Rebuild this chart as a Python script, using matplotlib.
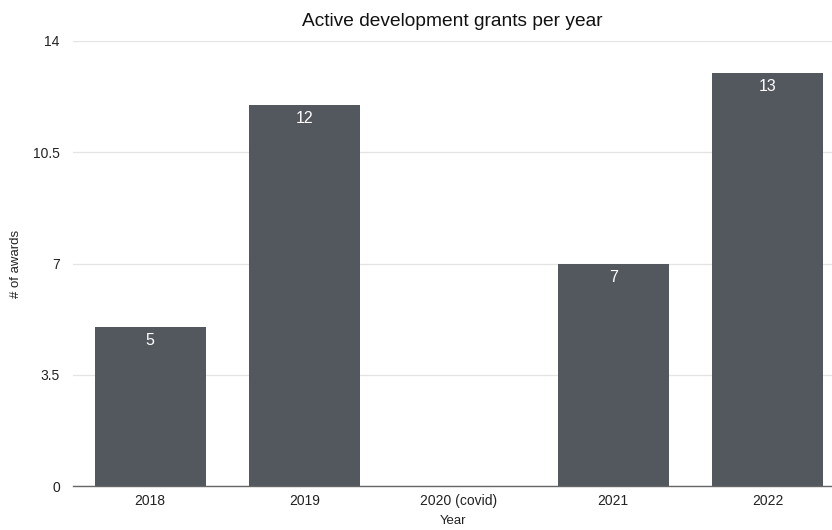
import matplotlib
matplotlib.use("Agg")
import matplotlib.pyplot as plt

categories = ["2018", "2019", "2020 (covid)", "2021", "2022"]
values = [5, 12, 0, 7, 13]
yticks = [0, 3.5, 7, 10.5, 14]
ytick_labels = ["0", "3.5", "7", "10.5", "14"]

plt.rcParams['font.family'] = ['Liberation Sans', 'DejaVu Sans']

fig = plt.figure(figsize=(8.32, 5.30), dpi=100)
ax = fig.add_axes([73/832, 1-486/530, 1-73/832, (486-41)/530])

x = list(range(len(categories)))
bars = ax.bar(x, values, width=0.72, color="#53585e", zorder=3)
for xi, v in zip(x, values):
    if v > 0:
        ax.text(xi, v - 0.2, str(v), ha="center", va="top", color="white",
                fontsize=11.5, zorder=4)

ax.set_xlim(-0.5, 4.417)
ax.set_ylim(0, 14)
ax.set_yticks(yticks)
ax.set_yticklabels(ytick_labels)
ax.set_xticks(x)
ax.set_xticklabels(categories)
ax.tick_params(axis="both", length=0, labelsize=10, colors="#222222")
ax.tick_params(axis="y", pad=9.5)
ax.tick_params(axis="x", pad=6)
ax.grid(axis="y", color="#e4e4e4", linewidth=0.9, zorder=0)
for s in ["top", "right", "left"]:
    ax.spines[s].set_visible(False)
ax.spines["bottom"].set_color("#666666")
ax.spines["bottom"].set_linewidth(1.0)
ax.spines["bottom"].set_zorder(5)

ax.set_xlabel("Year", fontsize=9.5, labelpad=5, color="#222222")
ax.set_ylabel("# of awards", fontsize=9.5, labelpad=8, color="#222222")
ax.set_title("Active development grants per year", fontsize=13.8, pad=11, color="#111111")

fig.savefig("out.png", dpi=100)
